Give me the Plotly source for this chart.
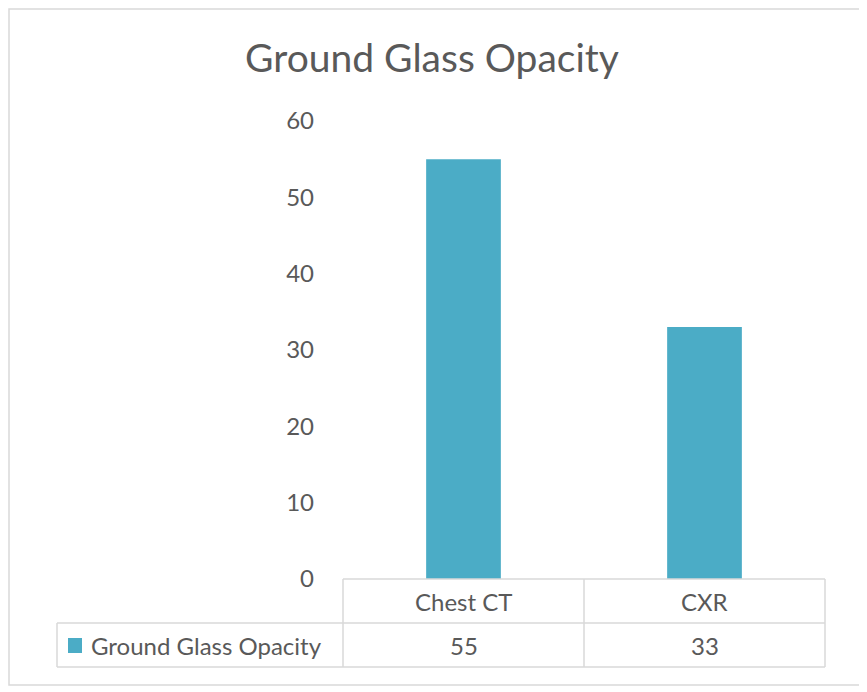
import plotly.graph_objects as go

# chart data
categories = ["Chest CT", "CXR"]
values = [55, 33]
series_name = "Ground Glass Opacity"
y_ticks = [0, 10, 20, 30, 40, 50, 60]

bar_color = "#4BACC6"
text_color = "#595959"
line_color = "#D9D9D9"
font_family = "Lato, 'Open Sans', sans-serif"

W, H = 867, 692
OFF = 8  # page body margin shifts the figure, so compensate
left, right, top, bottom = 343 - OFF, 825 - OFF, 121 - OFF, 579 - OFF
plot_h = bottom - top
plot_w = right - left


def py(pix):
    # reference pixel row -> paper y
    return (bottom - (pix - OFF)) / plot_h


def px(pix):
    # reference pixel column -> paper x
    return ((pix - OFF) - left) / plot_w


fig = go.Figure()
fig.add_trace(go.Bar(
    x=categories, y=values, name=series_name,
    marker=dict(color=bar_color, line=dict(width=0)),
    width=0.31,
))

row1, row2 = 623, 667
grid = dict(color=line_color, width=1.5)
shapes = []
# outer chart border
shapes.append(dict(type="rect", xref="paper", yref="paper",
                   x0=(1 - left) / plot_w, x1=px(860), y0=py(685), y1=(bottom - 1) / plot_h,
                   line=dict(color=line_color, width=1.5)))
# data table grid
shapes.append(dict(type="line", xref="paper", yref="paper",
                   x0=0, x1=1, y0=0, y1=0, line=grid))
shapes.append(dict(type="line", xref="paper", yref="paper",
                   x0=px(57), x1=1, y0=py(row1), y1=py(row1), line=grid))
shapes.append(dict(type="line", xref="paper", yref="paper",
                   x0=px(57), x1=1, y0=py(row2), y1=py(row2), line=grid))
shapes.append(dict(type="line", xref="paper", yref="paper",
                   x0=px(57), x1=px(57), y0=py(row1), y1=py(row2), line=grid))
for i in range(len(categories) + 1):
    xi = i / len(categories)
    shapes.append(dict(type="line", xref="paper", yref="paper",
                       x0=xi, x1=xi, y0=0, y1=py(row2), line=grid))
# legend key in table
shapes.append(dict(type="rect", xref="paper", yref="paper",
                   x0=px(68), x1=px(82), y0=py(653), y1=py(638),
                   fillcolor=bar_color, line=dict(width=0)))

cell_font = dict(size=24, color=text_color, family=font_family)
annotations = []
for i, (cat, val) in enumerate(zip(categories, values)):
    xc = (i + 0.5) / len(categories)
    annotations.append(dict(x=xc, y=py((579 + row1) / 2), xref="paper", yref="paper",
                            text=cat, showarrow=False, xanchor="center", yanchor="middle",
                            font=cell_font))
    annotations.append(dict(x=xc, y=py((row1 + row2) / 2), xref="paper", yref="paper",
                            text=str(val), showarrow=False, xanchor="center", yanchor="middle",
                            font=cell_font))
annotations.append(dict(x=px(89), y=py((row1 + row2) / 2), xref="paper", yref="paper",
                        text=series_name, showarrow=False, xanchor="left", yanchor="middle",
                        font=cell_font))

fig.update_layout(
    width=W, height=H,
    margin=dict(l=left, r=W - right, t=top, b=H - bottom, pad=0),
    paper_bgcolor="white", plot_bgcolor="white",
    showlegend=False,
    title=dict(text="Ground Glass Opacity", x=(432 - OFF) / W, xref="container",
               y=1 - (58 - OFF) / H, yref="container",
               yanchor="middle", xanchor="center",
               font=dict(size=39, color=text_color, family=font_family)),
    font=dict(family=font_family, color=text_color),
    xaxis=dict(showticklabels=False, showgrid=False, zeroline=False,
               showline=False, ticks=""),
    yaxis=dict(range=[0, 60], tickvals=y_ticks, showgrid=False, zeroline=False,
               showline=False, ticks="", ticklabelstandoff=28,
               tickfont=dict(size=24, color=text_color, family=font_family)),
    shapes=shapes,
    annotations=annotations,
)

fig.write_html("out.html")
